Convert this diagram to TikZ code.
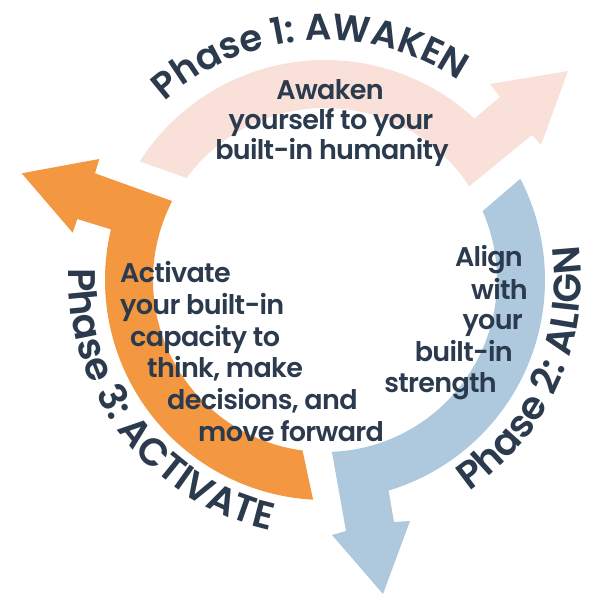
\documentclass[tikz,border=0pt]{standalone}
\usepackage{fontspec}
\setmainfont{Poppins}
\newfontfamily\popm{Poppins SemiBold}
\newfontfamily\popb{Poppins SemiBold}[LetterSpace=-2.5]
\usetikzlibrary{calc,decorations.text}
\definecolor{pinkc}{RGB}{249,224,217}
\definecolor{bluec}{RGB}{174,201,222}
\definecolor{orangec}{RGB}{243,151,64}
\definecolor{navy}{RGB}{43,58,77}
\tikzset{
  body/.style={inner sep=0pt, text=navy, font=\fontsize{27}{30}\popb},
  phasetext/.style={decorate, decoration={text along path, text align=center, text color=navy}},
}
\begin{document}
\begin{tikzpicture}[x=1pt,y=1pt]
\useasboundingbox (0,0) rectangle (600,600);
\coordinate (C) at (325,320);
% pink arrow
\fill[pinkc] ($(C)+(147.4:220)$) arc[start angle=147.4,end angle=47.2,radius=220pt]
  -- (500,503) -- (490,516) -- (568,529) -- (541,455) -- (532,465)
  -- ($(C)+(33:172)$) arc[start angle=33,end angle=143.6,radius=172pt] -- cycle;
% blue arrow
\fill[bluec] ($(C)+(27.4:220)$) arc[start angle=27.4,end angle=-73.2,radius=220pt]
  -- (394,78) -- (410,79) -- (383,6) -- (332,65) -- (346,69)
  -- ($(C)+(-87.7:172)$) arc[start angle=-87.7,end angle=23.6,radius=172pt] -- cycle;
% orange arrow
\fill[orangec] ($(C)+(266.9:220)$) arc[start angle=266.9,end angle=166.7,radius=220pt]
  -- (77.3,381) -- (72.7,367.3) -- (21.7,426.7) -- (99.3,441) -- (95,426.7)
  -- ($(C)+(152.7:172)$) arc[start angle=152.7,end angle=262.5,radius=172pt] -- cycle;
% phase labels
\path[phasetext, decoration={text={|\fontsize{37}{40}\popm|Phase 1: AWAKEN}}]
  ($(C)+(154:240)$) arc[start angle=154,end angle=34,radius=240pt];
\path[phasetext, decoration={text={|\fontsize{38.5}{40}\popm|Phase 2: ALIGN}}]
  ($(C)+(-84:256)$) arc[start angle=-84,end angle=36,radius=256pt];
\path[phasetext, decoration={text={|\fontsize{38.5}{40}\popm|Phase 3: ACTIVATE}}]
  ($(C)+(157.5:256)$) arc[start angle=157.5,end angle=277.5,radius=256pt];
% awaken text
\node[body, anchor=base] (aw1) at (330,500) {Awaken};
\node[body, anchor=base] (aw2) at (331,470) {yourself to your};
\node[body, anchor=base] (aw3) at (332,440) {built-in humanity};
% align text
\node[body, anchor=base east] (al1) at (523,333) {Align};
\node[body, anchor=base east] (al2) at (528,300) {with};
\node[body, anchor=base east] (al3) at (523,270) {your};
\node[body, anchor=base east] (al4) at (513,238) {built-in};
\node[body, anchor=base east] (al5) at (497,207) {strength};
% activate text
\node[body, anchor=base west] (ac1) at (120,317) {Activate};
\node[body, anchor=base west] (ac2) at (120,285) {your built-in};
\node[body, anchor=base west] (ac3) at (130,253) {capacity to};
\node[body, anchor=base west] (ac4) at (147,222) {think, make};
\node[body, anchor=base west] (ac5) at (167,190) {decisions, and};
\node[body, anchor=base west] (ac6) at (198,158) {move forward};
\end{tikzpicture}
\end{document}
